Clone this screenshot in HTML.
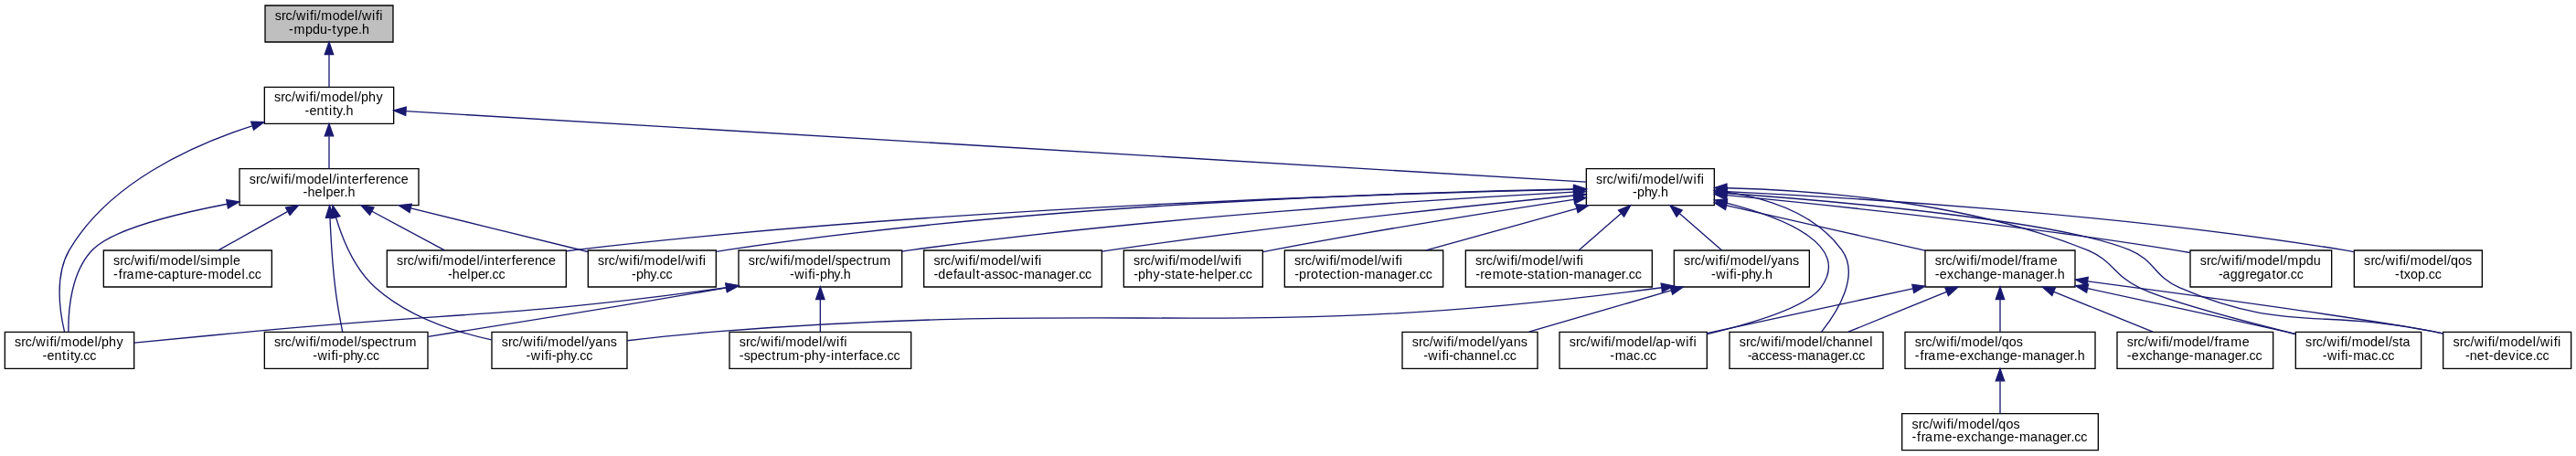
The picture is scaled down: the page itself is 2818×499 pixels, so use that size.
<!DOCTYPE html>
<html><head><meta charset="utf-8"><title>src/wifi/model/wifi-mpdu-type.h</title>
<style>
html,body{margin:0;padding:0;background:#fff;}
svg{display:block;will-change:transform;}
text{font-family:"Liberation Sans",sans-serif;font-size:10.3px;fill:#000;}
</style></head><body>
<svg width="2818" height="499" viewBox="0 0 2113.5 374.25">
<g transform="translate(4 370)">
<g>
<polygon fill="#bfbfbf" stroke="black" points="213.5,-335.5 213.5,-365.5 318.5,-365.5 318.5,-335.5 213.5,-335.5"/>
<text transform="scale(1.0447,1)" x="212.04 217.28 220.47 225.68 228.77 236.74 239.60 242.65 245.06 248.33 257.27 262.97 268.77 274.78 277.37 280.46 288.43 291.29 294.34" y="-353.5">src/wifi/model/wifi</text>
<text transform="scale(1.0447,1)" x="223.12 227.03 236.02 241.67 247.44 253.27 257.12 260.67 266.17 271.89 277.60 280.49" y="-342.5">-mpdu-type.h</text>
</g>
<g>
<polygon fill="white" stroke="black" points="213,-268.5 213,-298.5 319,-298.5 319,-268.5 213,-268.5"/>
<text transform="scale(1.0447,1)" x="211.56 216.80 219.99 225.20 228.29 236.26 239.12 242.17 244.58 247.85 256.79 262.49 268.30 274.30 276.89 279.81 285.51 291.54" y="-286.5">src/wifi/model/phy</text>
<text transform="scale(1.0447,1)" x="235.68 239.22 244.96 251.02 254.57 257.48 260.31 265.04 267.92" y="-275.5">-entity.h</text>
</g>
<g>
<path fill="none" stroke="midnightblue" d="M266,-325.11C266,-316.15 266,-306.32 266,-298.58"/>
<polygon fill="midnightblue" stroke="midnightblue" points="262.5,-325.4 266,-335.4 269.5,-325.4 262.5,-325.4"/>
</g>
<g>
<polygon fill="white" stroke="black" points="192.5,-201.5 192.5,-231.5 339.5,-231.5 339.5,-201.5 192.5,-201.5"/>
<text transform="scale(1.0447,1)" x="191.93 197.17 200.37 205.57 208.67 216.64 219.50 222.55 224.96 228.23 237.17 242.86 248.67 254.68 257.27 260.43 263.03 269.08 272.36 278.30 282.17 285.29 291.22 294.62 300.36 305.90 311.13" y="-219.5">src/wifi/model/interference</text>
<text transform="scale(1.0447,1)" x="234.25 237.77 243.53 249.54 252.17 257.89 263.38 266.47 269.36" y="-208.5">-helper.h</text>
</g>
<g>
<path fill="none" stroke="midnightblue" d="M266,-258.11C266,-249.15 266,-239.32 266,-231.58"/>
<polygon fill="midnightblue" stroke="midnightblue" points="262.5,-258.4 266,-268.4 269.5,-258.4 262.5,-258.4"/>
</g>
<g>
<polygon fill="white" stroke="black" points="0,-67.5 0,-97.5 106,-97.5 106,-67.5 0,-67.5"/>
<text transform="scale(1.0447,1)" x="7.66 12.90 16.10 21.30 24.39 32.36 35.22 38.28 40.69 43.96 52.90 58.59 64.40 70.41 73.00 75.92 81.62 87.64" y="-85.5">src/wifi/model/phy</text>
<text transform="scale(1.0447,1)" x="29.63 33.17 38.91 44.97 48.52 51.43 54.26 58.99 61.69 66.71" y="-74.5">-entity.cc</text>
</g>
<g>
<path fill="none" stroke="midnightblue" d="M202.78,-266.65C152.38,-250.32 85.11,-219.38 53,-165 40.7,-144.17 44.83,-114.8 48.93,-97.6"/>
<polygon fill="midnightblue" stroke="midnightblue" points="202.03,-270.08 212.62,-269.73 204.12,-263.4 202.03,-270.08"/>
</g>
<g>
<polygon fill="white" stroke="black" points="1297.5,-201.5 1297.5,-231.5 1402.5,-231.5 1402.5,-201.5 1297.5,-201.5"/>
<text transform="scale(1.0447,1)" x="1249.70 1254.93 1258.13 1263.33 1266.43 1274.40 1277.26 1280.31 1282.72 1285.99 1294.93 1300.62 1306.43 1312.44 1315.03 1318.12 1326.09 1328.95 1332.00" y="-219.5">src/wifi/model/wifi</text>
<text transform="scale(1.0447,1)" x="1278.37 1281.93 1287.63 1292.94 1297.67 1300.55" y="-208.5">-phy.h</text>
</g>
<g>
<path fill="none" stroke="midnightblue" d="M329.12,-278.72C524.52,-267 1117.12,-231.46 1297.4,-220.65"/>
<polygon fill="midnightblue" stroke="midnightblue" points="328.79,-275.23 319.02,-279.32 329.21,-282.22 328.79,-275.23"/>
</g>
<g>
<polygon fill="white" stroke="black" points="313.5,-134.5 313.5,-164.5 460.5,-164.5 460.5,-134.5 313.5,-134.5"/>
<text transform="scale(1.0447,1)" x="307.76 313.00 316.19 321.40 324.49 332.46 335.32 338.37 340.79 344.05 353.00 358.69 364.50 370.51 373.09 376.26 378.86 384.91 388.19 394.13 398.00 401.11 407.05 410.45 416.19 421.73 426.96" y="-152.5">src/wifi/model/interference</text>
<text transform="scale(1.0447,1)" x="347.92 351.44 357.20 363.21 365.84 371.56 377.06 380.15 382.84 387.87" y="-141.5">-helper.cc</text>
</g>
<g>
<path fill="none" stroke="midnightblue" d="M301.23,-196.57C320.26,-186.35 343.37,-173.94 360.8,-164.58"/>
<polygon fill="midnightblue" stroke="midnightblue" points="299.41,-193.58 292.26,-201.4 302.72,-199.75 299.41,-193.58"/>
</g>
<g>
<path fill="none" stroke="midnightblue" d="M182.47,-202.56C137.36,-193.92 87.76,-181.17 72,-165 54.35,-146.9 51.92,-115.75 52.17,-97.66"/>
<polygon fill="midnightblue" stroke="midnightblue" points="181.84,-206 192.31,-204.4 183.12,-199.12 181.84,-206"/>
</g>
<g>
<polygon fill="white" stroke="black" points="81,-134.5 81,-164.5 219,-164.5 219,-134.5 81,-134.5"/>
<text transform="scale(1.0447,1)" x="85.20 90.44 93.63 98.84 101.93 109.90 112.76 115.81 118.23 121.49 130.44 136.13 141.94 147.95 150.53 153.41 158.72 161.70 170.69 176.66 179.27" y="-152.5">src/wifi/model/simple</text>
<text transform="scale(1.0447,1)" x="85.28 89.28 92.59 95.61 102.11 111.07 116.86 120.20 125.04 131.20 137.22 140.46 146.44 149.84 155.63 159.54 168.49 174.18 179.99 186.00 188.58 191.27 196.30" y="-141.5">-frame-capture-model.cc</text>
</g>
<g>
<path fill="none" stroke="midnightblue" d="M231.73,-196.3C213.58,-186.12 191.68,-173.85 175.12,-164.58"/>
<polygon fill="midnightblue" stroke="midnightblue" points="230.4,-199.56 240.83,-201.4 233.82,-193.45 230.4,-199.56"/>
</g>
<g>
<polygon fill="white" stroke="black" points="213,-67.5 213,-97.5 347,-97.5 347,-67.5 213,-67.5"/>
<text transform="scale(1.0447,1)" x="211.56 216.80 219.99 225.20 228.29 236.26 239.12 242.17 244.58 247.85 256.79 262.49 268.30 274.30 276.89 279.76 284.84 290.55 296.09 301.63 305.10 308.46 314.62" y="-85.5">src/wifi/model/spectrum</text>
<text transform="scale(1.0447,1)" x="241.90 245.64 253.61 256.47 259.52 262.01 265.57 271.27 276.58 281.31 284.01 289.03" y="-74.5">-wifi-phy.cc</text>
</g>
<g>
<path fill="none" stroke="midnightblue" d="M266.76,-191.07C267.45,-174.85 268.72,-153.1 271,-134 272.48,-121.62 275.03,-107.68 277.04,-97.58"/>
<polygon fill="midnightblue" stroke="midnightblue" points="263.26,-191.2 266.38,-201.32 270.25,-191.46 263.26,-191.2"/>
</g>
<g>
<polygon fill="white" stroke="black" points="478.5,-134.5 478.5,-164.5 583.5,-164.5 583.5,-134.5 478.5,-134.5"/>
<text transform="scale(1.0447,1)" x="465.71 470.95 474.14 479.35 482.44 490.41 493.27 496.32 498.73 502.00 510.94 516.64 522.45 528.45 531.04 534.13 542.10 544.96 548.01" y="-152.5">src/wifi/model/wifi</text>
<text transform="scale(1.0447,1)" x="492.23 495.79 501.49 506.80 511.53 514.23 519.25" y="-141.5">-phy.cc</text>
</g>
<g>
<path fill="none" stroke="midnightblue" d="M333.16,-199.03C378.23,-187.97 436.75,-173.62 478.43,-163.39"/>
<polygon fill="midnightblue" stroke="midnightblue" points="332.05,-195.69 323.17,-201.48 333.72,-202.49 332.05,-195.69"/>
</g>
<g>
<polygon fill="white" stroke="black" points="399.5,-67.5 399.5,-97.5 510.5,-97.5 510.5,-67.5 399.5,-67.5"/>
<text transform="scale(1.0447,1)" x="390.09 395.32 398.52 403.72 406.82 414.79 417.65 420.70 423.11 426.38 435.32 441.01 446.82 452.83 455.42 458.58 463.67 469.80 475.52" y="-85.5">src/wifi/model/yans</text>
<text transform="scale(1.0447,1)" x="409.42 413.16 421.13 423.99 427.04 429.53 433.09 438.79 444.10 448.83 451.53 456.55" y="-74.5">-wifi-phy.cc</text>
</g>
<g>
<path fill="none" stroke="midnightblue" d="M271.66,-191.49C277.1,-173.37 287.06,-149.12 304,-134 330.4,-110.44 368.15,-97.82 399.3,-91.08"/>
<polygon fill="midnightblue" stroke="midnightblue" points="268.23,-190.77 268.96,-201.34 274.98,-192.62 268.23,-190.77"/>
</g>
<g>
<path fill="none" stroke="midnightblue" d="M1287.15,-214.44C1142.38,-211.43 774.38,-200.63 469,-165 466.27,-164.68 463.5,-164.33 460.7,-163.95"/>
<polygon fill="midnightblue" stroke="midnightblue" points="1287.11,-217.94 1297.18,-214.64 1287.26,-210.94 1287.11,-217.94"/>
</g>
<g>
<path fill="none" stroke="midnightblue" d="M1287.19,-214.77C1157.02,-212.49 848.58,-203.15 593,-165 589.94,-164.54 586.81,-164.01 583.65,-163.43"/>
<polygon fill="midnightblue" stroke="midnightblue" points="1287.32,-218.27 1297.37,-214.94 1287.43,-211.27 1287.32,-218.27"/>
</g>
<g>
<polygon fill="white" stroke="black" points="1275.5,-67.5 1275.5,-97.5 1396.5,-97.5 1396.5,-67.5 1275.5,-67.5"/>
<text transform="scale(1.0447,1)" x="1228.64 1233.87 1237.07 1242.28 1245.37 1253.34 1256.20 1259.25 1261.66 1264.93 1273.87 1279.56 1285.37 1291.38 1293.97 1296.48 1302.63 1308.40 1312.13 1320.10 1322.96 1326.02" y="-85.5">src/wifi/model/ap-wifi</text>
<text transform="scale(1.0447,1)" x="1260.66 1264.57 1273.14 1279.07 1284.27 1286.96 1291.99" y="-74.5">-mac.cc</text>
</g>
<g>
<path fill="none" stroke="midnightblue" d="M1412.49,-203.34C1460.67,-191 1515.16,-168.73 1490,-134 1478.61,-118.28 1434.75,-104.83 1396.73,-95.78"/>
<polygon fill="midnightblue" stroke="midnightblue" points="1411.53,-199.97 1402.65,-205.75 1413.2,-206.77 1411.53,-199.97"/>
</g>
<g>
<polygon fill="white" stroke="black" points="1415,-67.5 1415,-97.5 1541,-97.5 1541,-67.5 1415,-67.5"/>
<text transform="scale(1.0447,1)" x="1362.17 1367.41 1370.60 1375.81 1378.90 1386.87 1389.73 1392.78 1395.20 1398.46 1407.41 1413.10 1418.91 1424.92 1427.50 1430.19 1435.41 1440.78 1446.91 1452.65 1458.40 1464.40" y="-85.5">src/wifi/model/channel</text>
<text transform="scale(1.0447,1)" x="1368.59 1371.74 1377.66 1382.69 1387.92 1393.64 1398.67 1403.77 1407.68 1416.25 1422.38 1427.74 1433.80 1439.61 1445.11 1448.20 1450.89 1455.92" y="-74.5">-access-manager.cc</text>
</g>
<g>
<path fill="none" stroke="midnightblue" d="M1412.84,-212.38C1446.58,-207.11 1485.53,-194.46 1507,-165 1522.13,-144.25 1504.11,-114.85 1490.47,-97.62"/>
<polygon fill="midnightblue" stroke="midnightblue" points="1412,-208.96 1402.57,-213.79 1412.95,-215.9 1412,-208.96"/>
</g>
<g>
<polygon fill="white" stroke="black" points="1575.5,-134.5 1575.5,-164.5 1698.5,-164.5 1698.5,-134.5 1575.5,-134.5"/>
<text transform="scale(1.0447,1)" x="1515.81 1521.05 1524.24 1529.45 1532.54 1540.51 1543.37 1546.42 1548.83 1552.10 1561.04 1566.74 1572.55 1578.56 1581.14 1584.51 1587.82 1590.83 1597.33 1606.29" y="-152.5">src/wifi/model/frame</text>
<text transform="scale(1.0447,1)" x="1515.88 1519.42 1525.41 1530.70 1535.92 1541.29 1547.42 1553.10 1558.91 1564.70 1568.62 1577.19 1583.32 1588.68 1594.74 1600.55 1606.05 1609.14 1612.02" y="-141.5">-exchange-manager.h</text>
</g>
<g>
<path fill="none" stroke="midnightblue" d="M1412.66,-201.31C1460.98,-190.37 1527.44,-175.31 1575.47,-164.43"/>
<polygon fill="midnightblue" stroke="midnightblue" points="1411.62,-197.96 1402.64,-203.58 1413.17,-204.78 1411.62,-197.96"/>
</g>
<g>
<polygon fill="white" stroke="black" points="1879.5,-67.5 1879.5,-97.5 1982.5,-97.5 1982.5,-67.5 1879.5,-67.5"/>
<text transform="scale(1.0447,1)" x="1806.81 1812.05 1815.25 1820.45 1823.54 1831.51 1834.37 1837.43 1839.84 1843.11 1852.05 1857.74 1863.55 1869.56 1872.14 1875.02 1880.37 1883.27" y="-85.5">src/wifi/model/sta</text>
<text transform="scale(1.0447,1)" x="1820.17 1823.90 1831.87 1834.73 1837.79 1840.27 1844.18 1852.76 1858.68 1863.88 1866.58 1871.60" y="-74.5">-wifi-mac.cc</text>
</g>
<g>
<path fill="none" stroke="midnightblue" d="M1412.71,-215.66C1486.07,-213.84 1609.97,-204.43 1708,-165 1729.86,-156.21 1729.78,-144.23 1751,-134 1773.59,-123.12 1834.47,-106.97 1879.2,-95.89"/>
<polygon fill="midnightblue" stroke="midnightblue" points="1412.62,-212.16 1402.7,-215.87 1412.77,-219.16 1412.62,-212.16"/>
</g>
<g>
<polygon fill="white" stroke="black" points="2000.5,-67.5 2000.5,-97.5 2105.5,-97.5 2105.5,-67.5 2000.5,-67.5"/>
<text transform="scale(1.0447,1)" x="1922.64 1927.88 1931.07 1936.28 1939.37 1947.34 1950.20 1953.25 1955.66 1958.93 1967.87 1973.57 1979.38 1985.39 1987.97 1991.06 1999.03 2001.89 2004.95" y="-85.5">src/wifi/model/wifi</text>
<text transform="scale(1.0447,1)" x="1932.29 1935.82 1941.57 1947.62 1950.95 1954.43 1960.23 1966.25 1971.99 1974.39 1979.62 1985.34 1988.03 1993.06" y="-74.5">-net-device.cc</text>
</g>
<g>
<path fill="none" stroke="midnightblue" d="M1412.93,-211.36C1508.33,-204.43 1684.62,-188.83 1743,-165 1764.15,-156.37 1763.04,-143.09 1784,-134 1870.07,-96.66 1900.1,-116.86 1992,-98 1994.77,-97.43 1997.61,-96.83 2000.47,-96.2"/>
<polygon fill="midnightblue" stroke="midnightblue" points="1412.56,-207.88 1402.83,-212.09 1413.06,-214.86 1412.56,-207.88"/>
</g>
<g>
<polygon fill="white" stroke="black" points="1793,-134.5 1793,-164.5 1909,-164.5 1909,-134.5 1793,-134.5"/>
<text transform="scale(1.0447,1)" x="1724.01 1729.25 1732.44 1737.65 1740.74 1748.71 1751.57 1754.62 1757.04 1760.30 1769.25 1774.94 1780.75 1786.76 1789.34 1792.61 1801.60 1807.25 1813.02" y="-152.5">src/wifi/model/mpdu</text>
<text transform="scale(1.0447,1)" x="1738.56 1741.72 1747.78 1753.52 1759.52 1762.92 1768.60 1774.03 1780.46 1783.72 1789.24 1792.33 1795.02 1800.05" y="-141.5">-aggregator.cc</text>
</g>
<g>
<path fill="none" stroke="midnightblue" d="M1412.81,-209.73C1496.59,-201.65 1649.43,-185.64 1779,-165 1783.53,-164.28 1788.22,-163.47 1792.91,-162.62"/>
<polygon fill="midnightblue" stroke="midnightblue" points="1412.31,-206.26 1402.69,-210.69 1412.98,-213.23 1412.31,-206.26"/>
</g>
<g>
<polygon fill="white" stroke="black" points="1927.5,-134.5 1927.5,-164.5 2032.5,-164.5 2032.5,-134.5 1927.5,-134.5"/>
<text transform="scale(1.0447,1)" x="1852.76 1858.00 1861.19 1866.40 1869.49 1877.46 1880.32 1883.37 1885.79 1889.05 1898.00 1903.69 1909.50 1915.51 1918.09 1920.92 1926.71 1932.45" y="-152.5">src/wifi/model/qos</text>
<text transform="scale(1.0447,1)" x="1877.13 1880.97 1884.14 1889.26 1895.05 1900.74 1903.43 1908.46" y="-141.5">-txop.cc</text>
</g>
<g>
<path fill="none" stroke="midnightblue" d="M1412.9,-212.81C1518.04,-207.67 1735.9,-194.24 1918,-165 1921.06,-164.51 1924.19,-163.95 1927.34,-163.35"/>
<polygon fill="midnightblue" stroke="midnightblue" points="1412.59,-209.32 1402.77,-213.3 1412.93,-216.31 1412.59,-209.32"/>
</g>
<g>
<polygon fill="white" stroke="black" points="602,-134.5 602,-164.5 736,-164.5 736,-134.5 602,-134.5"/>
<text transform="scale(1.0447,1)" x="583.93 589.17 592.36 597.57 600.66 608.63 611.49 614.54 616.95 620.22 629.16 634.86 640.67 646.67 649.26 652.13 657.21 662.92 668.46 674.00 677.47 680.83 686.99" y="-152.5">src/wifi/model/spectrum</text>
<text transform="scale(1.0447,1)" x="616.43 620.16 628.13 630.99 634.04 636.53 640.10 645.80 651.10 655.84 658.72" y="-141.5">-wifi-phy.h</text>
</g>
<g>
<path fill="none" stroke="midnightblue" d="M1286.92,-212.43C1176.63,-206.56 941.77,-191.91 745,-165 742.07,-164.6 739.09,-164.16 736.07,-163.69"/>
<polygon fill="midnightblue" stroke="midnightblue" points="1287.02,-215.94 1297.19,-212.97 1287.39,-208.95 1287.02,-215.94"/>
</g>
<g>
<polygon fill="white" stroke="black" points="754,-134.5 754,-164.5 900,-164.5 900,-134.5 754,-134.5"/>
<text transform="scale(1.0447,1)" x="729.43 734.67 737.86 743.07 746.16 754.13 756.99 760.04 762.45 765.72 774.66 780.36 786.17 792.18 794.76 797.85 805.82 808.68 811.73" y="-152.5">src/wifi/model/wifi</text>
<text transform="scale(1.0447,1)" x="729.50 732.98 738.78 745.00 747.73 753.82 759.87 762.79 766.12 769.27 775.38 780.40 785.43 790.99 796.27 800.18 808.76 814.88 820.25 826.31 832.12 837.61 840.70 843.40 848.42" y="-141.5">-default-assoc-manager.cc</text>
</g>
<g>
<path fill="none" stroke="midnightblue" d="M1287.17,-209.52C1201.49,-201.09 1043.29,-184.54 909,-165 906.14,-164.58 903.22,-164.14 900.28,-163.69"/>
<polygon fill="midnightblue" stroke="midnightblue" points="1286.96,-213.02 1297.26,-210.51 1287.64,-206.05 1286.96,-213.02"/>
</g>
<g>
<polygon fill="white" stroke="black" points="918,-134.5 918,-164.5 1032,-164.5 1032,-134.5 918,-134.5"/>
<text transform="scale(1.0447,1)" x="886.42 891.66 894.85 900.06 903.15 911.12 913.98 917.03 919.44 922.71 931.65 937.35 943.16 949.16 951.75 954.84 962.81 965.67 968.72" y="-152.5">src/wifi/model/wifi</text>
<text transform="scale(1.0447,1)" x="886.49 890.06 895.76 901.78 907.31 910.83 916.19 919.08 925.52 928.80 934.59 938.12 943.87 949.88 952.52 958.23 963.73 966.82 969.52 974.54" y="-141.5">-phy-state-helper.cc</text>
</g>
<g>
<path fill="none" stroke="midnightblue" d="M1287.26,-206.27C1224.7,-196.82 1125.96,-181.26 1041,-165 1038.12,-164.45 1035.17,-163.87 1032.2,-163.27"/>
<polygon fill="midnightblue" stroke="midnightblue" points="1286.95,-209.76 1297.36,-207.79 1287.99,-202.84 1286.95,-209.76"/>
</g>
<g>
<polygon fill="white" stroke="black" points="1050,-134.5 1050,-164.5 1180,-164.5 1180,-134.5 1050,-134.5"/>
<text transform="scale(1.0447,1)" x="1012.78 1018.01 1021.21 1026.42 1029.51 1037.48 1040.34 1043.39 1045.80 1049.07 1058.01 1063.71 1069.51 1075.52 1078.11 1081.20 1089.17 1092.03 1095.08" y="-152.5">src/wifi/model/wifi</text>
<text transform="scale(1.0447,1)" x="1012.85 1016.41 1022.32 1025.70 1031.77 1035.05 1040.59 1046.13 1049.68 1052.27 1058.03 1063.82 1067.73 1076.31 1082.44 1087.80 1093.86 1099.67 1105.16 1108.26 1110.95 1115.98" y="-141.5">-protection-manager.cc</text>
</g>
<g>
<path fill="none" stroke="midnightblue" d="M1289.32,-198.71C1251.07,-188.14 1202.26,-174.63 1166.02,-164.61"/>
<polygon fill="midnightblue" stroke="midnightblue" points="1288.73,-202.18 1299.3,-201.48 1290.59,-195.44 1288.73,-202.18"/>
</g>
<g>
<polygon fill="white" stroke="black" points="1198.5,-134.5 1198.5,-164.5 1351.5,-164.5 1351.5,-134.5 1198.5,-134.5"/>
<text transform="scale(1.0447,1)" x="1154.93 1160.17 1163.36 1168.57 1171.66 1179.63 1182.49 1185.54 1187.95 1191.22 1200.16 1205.86 1211.66 1217.67 1220.26 1223.35 1231.32 1234.18 1237.23" y="-152.5">src/wifi/model/wifi</text>
<text transform="scale(1.0447,1)" x="1155.00 1158.73 1162.13 1168.25 1177.19 1183.26 1186.54 1192.33 1195.85 1201.21 1204.10 1210.54 1214.09 1216.67 1222.43 1228.23 1232.14 1240.72 1246.84 1252.21 1258.27 1264.07 1269.57 1272.66 1275.36 1280.38" y="-141.5">-remote-station-manager.cc</text>
</g>
<g>
<path fill="none" stroke="midnightblue" d="M1325.88,-194.6C1314.56,-184.78 1301.36,-173.34 1291.24,-164.58"/>
<polygon fill="midnightblue" stroke="midnightblue" points="1323.88,-197.49 1333.73,-201.4 1328.46,-192.2 1323.88,-197.49"/>
</g>
<g>
<polygon fill="white" stroke="black" points="1369.5,-134.5 1369.5,-164.5 1480.5,-164.5 1480.5,-134.5 1369.5,-134.5"/>
<text transform="scale(1.0447,1)" x="1318.62 1323.86 1327.05 1332.26 1335.35 1343.32 1346.18 1349.23 1351.64 1354.91 1363.85 1369.55 1375.35 1381.36 1383.95 1387.11 1392.20 1398.33 1404.05" y="-152.5">src/wifi/model/yans</text>
<text transform="scale(1.0447,1)" x="1340.11 1343.84 1351.81 1354.67 1357.73 1360.21 1363.78 1369.48 1374.78 1379.52 1382.40" y="-141.5">-wifi-phy.h</text>
</g>
<g>
<path fill="none" stroke="midnightblue" d="M1374.12,-194.6C1385.44,-184.78 1398.64,-173.34 1408.76,-164.58"/>
<polygon fill="midnightblue" stroke="midnightblue" points="1371.54,-192.2 1366.27,-201.4 1376.12,-197.49 1371.54,-192.2"/>
</g>
<g>
<path fill="none" stroke="midnightblue" d="M1565.31,-133.02C1513.84,-121.9 1445.25,-107.09 1396.53,-96.57"/>
<polygon fill="midnightblue" stroke="midnightblue" points="1564.85,-136.5 1575.36,-135.19 1566.33,-129.66 1564.85,-136.5"/>
</g>
<g>
<path fill="none" stroke="midnightblue" d="M1593.08,-130.54C1567.63,-120.14 1536.07,-107.24 1512.43,-97.58"/>
<polygon fill="midnightblue" stroke="midnightblue" points="1591.92,-133.85 1602.5,-134.4 1594.57,-127.37 1591.92,-133.85"/>
</g>
<g>
<polygon fill="white" stroke="black" points="1733,-67.5 1733,-97.5 1861,-97.5 1861,-67.5 1733,-67.5"/>
<text transform="scale(1.0447,1)" x="1666.58 1671.82 1675.01 1680.22 1683.31 1691.28 1694.14 1697.19 1699.60 1702.87 1711.81 1717.51 1723.31 1729.32 1731.91 1735.27 1738.58 1741.60 1748.10 1757.06" y="-85.5">src/wifi/model/frame</text>
<text transform="scale(1.0447,1)" x="1666.65 1670.19 1676.18 1681.47 1686.68 1692.06 1698.19 1703.87 1709.67 1715.47 1719.38 1727.96 1734.08 1739.44 1745.51 1751.31 1756.81 1759.90 1762.60 1767.62" y="-74.5">-exchange-manager.cc</text>
</g>
<g>
<path fill="none" stroke="midnightblue" d="M1681.2,-130.54C1706.8,-120.14 1738.57,-107.24 1762.35,-97.58"/>
<polygon fill="midnightblue" stroke="midnightblue" points="1679.66,-127.39 1671.72,-134.4 1682.3,-133.87 1679.66,-127.39"/>
</g>
<g>
<polygon fill="white" stroke="black" points="1559,-67.5 1559,-97.5 1715,-97.5 1715,-67.5 1559,-67.5"/>
<text transform="scale(1.0447,1)" x="1500.02 1505.25 1508.45 1513.66 1516.75 1524.72 1527.58 1530.63 1533.04 1536.31 1545.25 1550.94 1556.75 1562.76 1565.35 1568.17 1573.97 1579.71" y="-85.5">src/wifi/model/qos</text>
<text transform="scale(1.0447,1)" x="1500.09 1504.10 1507.41 1510.42 1516.92 1525.88 1531.68 1535.21 1541.21 1546.50 1551.71 1557.09 1563.21 1568.89 1574.70 1580.50 1584.41 1592.99 1599.11 1604.47 1610.53 1616.34 1621.84 1624.93 1627.81" y="-74.5">-frame-exchange-manager.h</text>
</g>
<g>
<path fill="none" stroke="midnightblue" d="M1637,-124.11C1637,-115.15 1637,-105.32 1637,-97.58"/>
<polygon fill="midnightblue" stroke="midnightblue" points="1633.5,-124.4 1637,-134.4 1640.5,-124.4 1633.5,-124.4"/>
</g>
<g>
<path fill="none" stroke="midnightblue" d="M1708.78,-133.33C1754.89,-123.49 1816.04,-110.26 1870,-98 1873.08,-97.3 1876.24,-96.57 1879.43,-95.83"/>
<polygon fill="midnightblue" stroke="midnightblue" points="1707.94,-129.93 1698.89,-135.44 1709.4,-136.78 1707.94,-129.93"/>
</g>
<g>
<path fill="none" stroke="midnightblue" d="M1708.95,-139.06C1796.53,-127.44 1939.27,-108 1992,-98 1994.78,-97.47 1997.63,-96.9 2000.49,-96.31"/>
<polygon fill="midnightblue" stroke="midnightblue" points="1708.26,-135.62 1698.81,-140.41 1709.18,-142.56 1708.26,-135.62"/>
</g>
<g>
<polygon fill="white" stroke="black" points="1556.5,-0.5 1556.5,-30.5 1717.5,-30.5 1717.5,-0.5 1556.5,-0.5"/>
<text transform="scale(1.0447,1)" x="1497.62 1502.86 1506.05 1511.26 1514.35 1522.32 1525.18 1528.24 1530.65 1533.92 1542.86 1548.55 1554.36 1560.37 1562.95 1565.78 1571.57 1577.31" y="-18.5">src/wifi/model/qos</text>
<text transform="scale(1.0447,1)" x="1497.70 1501.70 1505.02 1508.03 1514.53 1523.49 1529.29 1532.82 1538.81 1544.11 1549.32 1554.70 1560.82 1566.50 1572.31 1578.10 1582.02 1590.59 1596.72 1602.08 1608.14 1613.95 1619.45 1622.54 1625.23 1630.26" y="-7.5">-frame-exchange-manager.cc</text>
</g>
<g>
<path fill="none" stroke="midnightblue" d="M1637,-57.11C1637,-48.15 1637,-38.32 1637,-30.58"/>
<polygon fill="midnightblue" stroke="midnightblue" points="1633.5,-57.4 1637,-67.4 1640.5,-57.4 1633.5,-57.4"/>
</g>
<g>
<path fill="none" stroke="midnightblue" d="M591.99,-133.94C419.4,-109.87 373.65,-114 204,-98 171.49,-94.93 135.04,-91.44 106.11,-88.64"/>
<polygon fill="midnightblue" stroke="midnightblue" points="591.53,-137.41 601.92,-135.34 592.51,-130.48 591.53,-137.41"/>
</g>
<g>
<path fill="none" stroke="midnightblue" d="M592.01,-133.85C501.6,-118.03 408.47,-103.27 347.26,-93.78"/>
<polygon fill="midnightblue" stroke="midnightblue" points="591.43,-137.3 601.88,-135.59 592.64,-130.41 591.43,-137.3"/>
</g>
<g>
<polygon fill="white" stroke="black" points="594.5,-67.5 594.5,-97.5 743.5,-97.5 743.5,-67.5 594.5,-67.5"/>
<text transform="scale(1.0447,1)" x="576.75 581.99 585.18 590.39 593.48 601.45 604.31 607.36 609.77 613.04 621.98 627.68 633.49 639.49 642.08 645.17 653.14 656.00 659.05" y="-85.5">src/wifi/model/wifi</text>
<text transform="scale(1.0447,1)" x="576.82 580.34 585.41 591.13 596.67 602.21 605.68 609.04 615.20 624.21 627.77 633.47 639.50 645.03 648.83 651.43 657.49 660.77 666.70 670.57 673.31 679.23 684.46 690.18 692.87 697.90" y="-74.5">-spectrum-phy-interface.cc</text>
</g>
<g>
<path fill="none" stroke="midnightblue" d="M669,-124.11C669,-115.15 669,-105.32 669,-97.58"/>
<polygon fill="midnightblue" stroke="midnightblue" points="665.5,-124.4 669,-134.4 672.5,-124.4 665.5,-124.4"/>
</g>
<g>
<path fill="none" stroke="midnightblue" d="M1359.33,-133.93C1017.58,-88.43 926.49,-124.72 586,-98 561.25,-96.06 533.95,-93.16 510.7,-90.46"/>
<polygon fill="midnightblue" stroke="midnightblue" points="1358.88,-137.4 1369.26,-135.26 1359.81,-130.46 1358.88,-137.4"/>
</g>
<g>
<polygon fill="white" stroke="black" points="1146.5,-67.5 1146.5,-97.5 1257.5,-97.5 1257.5,-67.5 1146.5,-67.5"/>
<text transform="scale(1.0447,1)" x="1105.15 1110.39 1113.58 1118.79 1121.88 1129.85 1132.71 1135.76 1138.17 1141.44 1150.38 1156.08 1161.89 1167.90 1170.48 1173.64 1178.74 1184.86 1190.58" y="-85.5">src/wifi/model/yans</text>
<text transform="scale(1.0447,1)" x="1114.08 1117.81 1125.78 1128.64 1131.69 1134.18 1137.51 1142.73 1148.10 1154.23 1159.97 1165.72 1171.73 1174.31 1177.00 1182.03" y="-74.5">-wifi-channel.cc</text>
</g>
<g>
<path fill="none" stroke="midnightblue" d="M1366.95,-131.58C1330.73,-121.02 1284.65,-107.59 1250.41,-97.61"/>
<polygon fill="midnightblue" stroke="midnightblue" points="1366.31,-135.04 1376.89,-134.48 1368.27,-128.32 1366.31,-135.04"/>
</g>
</g>
</svg>
</body></html>
